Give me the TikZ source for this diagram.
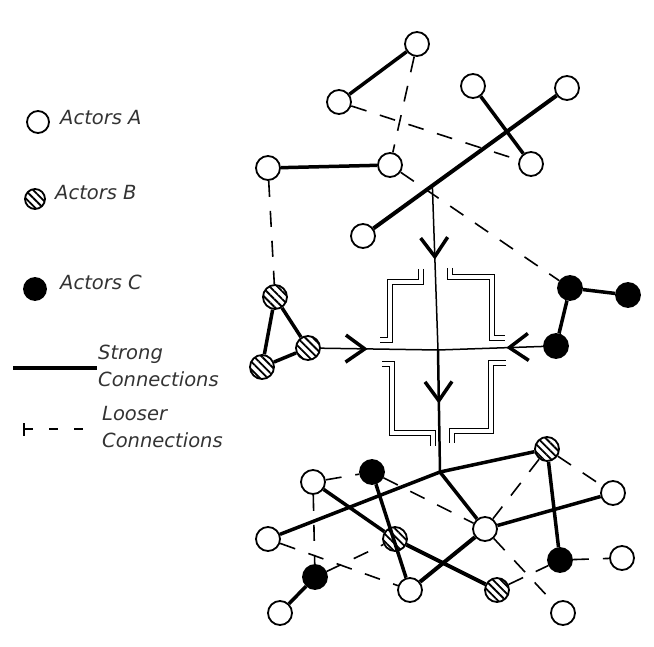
\documentclass[tikz,border=0pt]{standalone}
\usepackage{fontspec}
\newfontfamily\notefont{DejaVu Sans}
\usetikzlibrary{arrows.meta,patterns.meta,decorations.markings,calc}
\tikzset{
  actA/.style={draw,circle,line width=1.8pt,minimum size=24pt,inner sep=0pt,fill=white},
  actB/.style={actA,preaction={fill=white},pattern={Lines[angle=-45,distance=5.5pt,line width=1.8pt]}},
  actC/.style={actA,fill=black},
  strong/.style={line width=3.5pt},
  loose/.style={line width=1.6pt,dash pattern=on 16pt off 14pt},
  flow/.style={line width=1.5pt,decoration={markings,mark=at position #1 with {\arrow{Straight Barb[length=19pt,width=27pt,line width=3.5pt]}}},postaction={decorate}},
  frame/.style={double,double distance=3.5pt,line width=1.3pt},
  note/.style={anchor=west,inner sep=0pt,align=left,font=\notefont\itshape\fontsize{19.5}{27}\selectfont,text=black!80}
}
\begin{document}
\begin{tikzpicture}[x=1pt,y=-1pt]
\useasboundingbox (0,0) rectangle (654,647);

% key
\node[actA,minimum size=22pt] (kA) at (38,122) {};
\node[note] (kAt) at (60,118) {Actors A};
\node[actB,minimum size=20pt] (kB) at (35,199) {};
\node[note] (kBt) at (55,193) {Actors B};
\node[actC,minimum size=22pt] (kC) at (35,289) {};
\node[note] (kCt) at (60,282) {Actors C};
\coordinate (s0) at (13,368);
\coordinate (s1) at (97,368);
\draw[strong,line width=4.5pt] (s0) -- (s1);
\node[note] (sT) at (98,366) {Strong\\Connections};
\coordinate (w0) at (23,429);
\coordinate (w1) at (92,429);
\draw[line width=1.6pt,dash pattern=on 9pt off 16pt,{Bar[width=13pt]}-] (w0) -- (w1);
\node[note] (wT) at (102,427) {Looser\\Connections};

% upper group
\node[actA] (t1) at (417,44) {};
\node[actA] (t2) at (339,102) {};
\node[actA] (t3) at (473,86) {};
\node[actA] (t4) at (567,88) {};
\node[actA] (t5) at (531,164) {};
\node[actA] (t6) at (268,168) {};
\node[actA] (t7) at (390,165) {};
\node[actA] (t8) at (363,236) {};

% side groups
\node[actB] (l1) at (275,297) {};
\node[actB] (l2) at (308,348) {};
\node[actB] (l3) at (262,367) {};
\node[actC] (r1) at (570,288) {};
\node[actC] (r2) at (628,295) {};
\node[actC] (r3) at (556,346) {};

% lower group
\node[actB] (b1) at (547,449) {};
\node[actA] (b2) at (613,493) {};
\node[actC] (b3) at (372,472) {};
\node[actA] (b4) at (313,482) {};
\node[actA] (b5) at (268,539) {};
\node[actB] (b6) at (395,539) {};
\node[actA] (b7) at (485,529) {};
\node[actC] (b8) at (560,560) {};
\node[actA] (b9) at (622,558) {};
\node[actC] (b10) at (315,577) {};
\node[actA] (b11) at (410,590) {};
\node[actB] (b12) at (497,590) {};
\node[actA] (b13) at (563,613) {};
\node[actA] (b14) at (280,613) {};

\coordinate (join) at ($(t8)!0.34!(t4)$);
\coordinate (hub) at (438,350);
\coordinate (split) at (440,472);

\draw[strong] (t1) -- (t2);
\draw[strong] (t6) -- (t7);
\draw[strong] (t3) -- (t5);
\draw[strong,line width=4pt] (t8) -- (t4);
\draw[loose] (t1) -- (t7);
\draw[loose] (t2) -- (t5);
\draw[loose] (t7) -- (r1);
\draw[loose] (t6) -- (l1);

\draw[strong] (l1) -- (l2) -- (l3) -- (l1);
\draw[strong] (r2) -- (r1) -- (r3);

\draw[flow=0.45] (join) -- (hub);
\draw[flow=0.44,line width=2.5pt] (hub) -- (split);
\draw[flow=0.40] (l2) -- (hub);
\draw[flow=0.35] (r3) -- (hub);

\draw[frame] (421,269) -- (421,282) -- (390,282) -- (390,340) -- (380,340);
\draw[frame] (450,268) -- (450,277) -- (492,277) -- (492,338) -- (505,338);
\draw[frame] (382,364) -- (392,364) -- (392,433) -- (433,433) -- (433,446);
\draw[frame] (506,363) -- (491,363) -- (491,431) -- (452,431) -- (452,443);

\draw[strong] (split) -- (b1);
\draw[strong] (split) -- (b5);
\draw[strong] (split) -- (b7);
\draw[strong] (b1) -- (b8);
\draw[strong] (b7) -- (b2);
\draw[strong,line width=4pt] (b7) -- (b11);
\draw[strong] (b4) -- (b6);
\draw[strong,line width=4pt] (b6) -- (b12);
\draw[strong] (b3) -- (b11);
\draw[strong] (b10) -- (b14);
\draw[loose] (b4) -- (b3);
\draw[loose] (b3) -- (b7);
\draw[loose] (b4) -- (b10);
\draw[loose] (b5) -- (b11);
\draw[loose] (b10) -- (b6);
\draw[loose] (b1) -- (b2);
\draw[loose] (b1) -- (b7);
\draw[loose] (b7) -- (b13);
\draw[loose] (b12) -- (b8);
\draw[loose] (b8) -- (b9);
\end{tikzpicture}
\end{document}
